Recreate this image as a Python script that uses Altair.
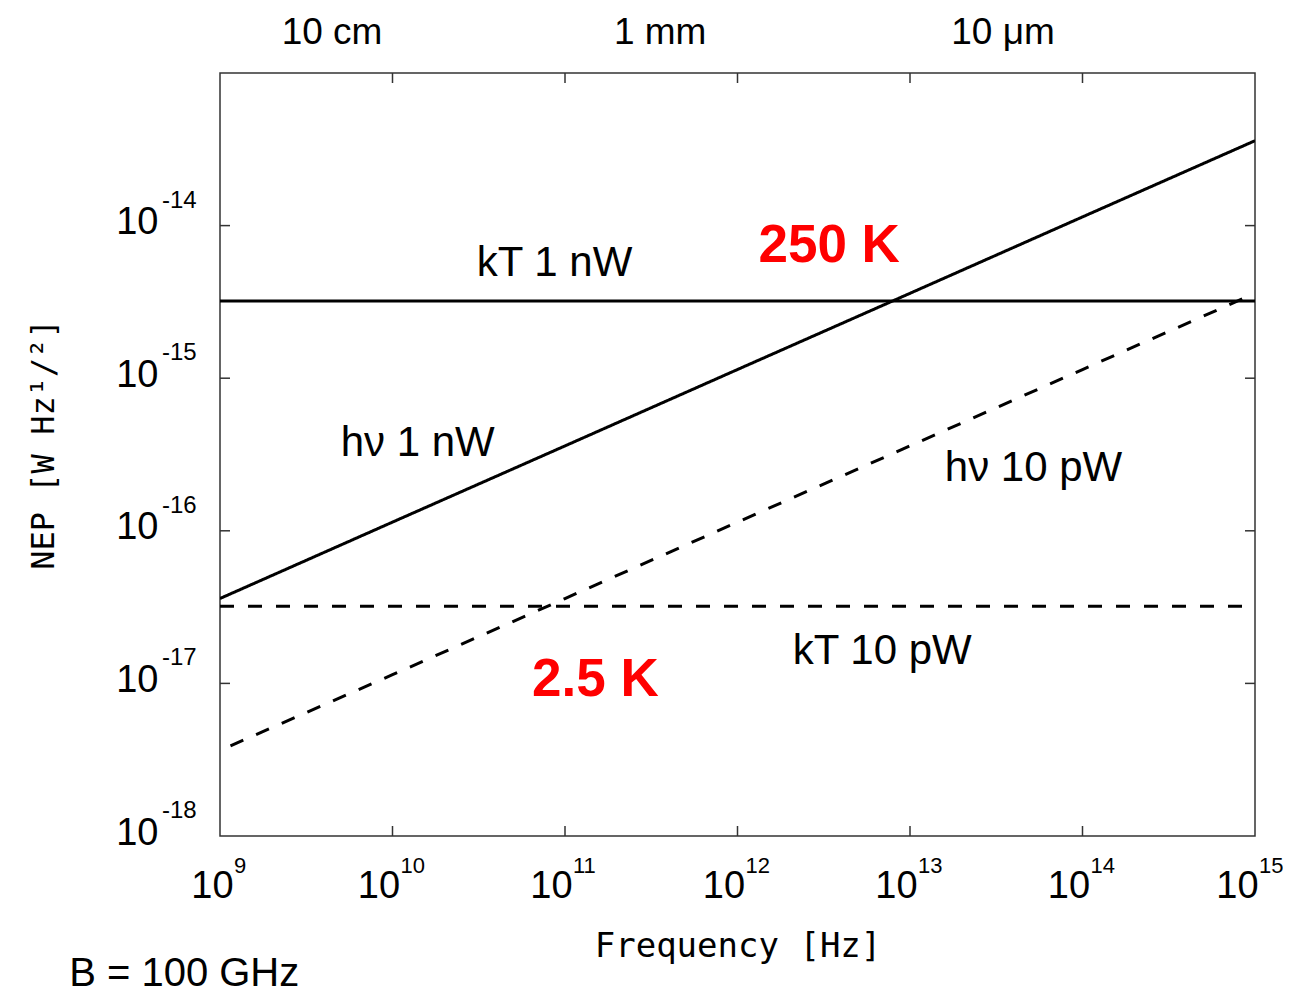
import altair as alt
import pandas as pd

# ---------------- data ----------------
freq_decades = [1e9, 1e10, 1e11, 1e12, 1e13, 1e14, 1e15]
hv_1nw = [3.6e-17, 1.14e-16, 3.6e-16, 1.14e-15, 3.6e-15, 1.14e-14, 3.6e-14]

hv_10pw_freq = [1.15e9, 1e10, 1e11, 1e12, 1e13, 1e14, 1e15]
hv_10pw = [3.9e-18, 1.14e-17, 3.6e-17, 1.14e-16, 3.6e-16, 1.14e-15, 3.6e-15]

kt_freq = [1e9, 1e15]
kt_1nw = [3.2e-15, 3.2e-15]
kt_10pw = [3.2e-17, 3.2e-17]

x_tick_values = [1e9, 1e10, 1e11, 1e12, 1e13, 1e14, 1e15]
x_tick_exponents = ["9", "10", "11", "12", "13", "14", "15"]
y_tick_values = [1e-18, 1e-17, 1e-16, 1e-15, 1e-14]
y_tick_exponents = ["-18", "-17", "-16", "-15", "-14"]
tick_base = "10"

inner_x_ticks = [1e10, 1e11, 1e12, 1e13, 1e14]
inner_y_ticks = [1e-17, 1e-16, 1e-15, 1e-14]

ann_labels = ["kT 1 nW", "hν 1 nW", "hν 10 pW", "kT 10 pW"]
ann_freq = [8.7e10, 1.4e10, 5.2e13, 6.9e12]
ann_nep = [5.7e-15, 3.76e-16, 2.57e-16, 1.64e-17]

temp_labels = ["250 K", "2.5 K"]
temp_freq = [3.4e12, 1.5e11]
temp_nep = [7.4e-15, 1.05e-17]

wave_labels = ["10 cm", "1 mm", "10 μm"]
wave_freq = [4.46e9, 3.56e11, 3.46e13]
wave_nep = [1.55e-13, 1.55e-13, 1.55e-13]

note_label = ["B = 100 GHz"]
note_freq = [6.2e8]
note_nep = [1.24e-19]

# ---------------- build tables ----------------
rows = []
for f, v in zip(freq_decades, hv_1nw):
    rows.append({"freq": f, "nep": v, "series": "hv 1 nW", "dash": "solid"})
for f, v in zip(hv_10pw_freq, hv_10pw):
    rows.append({"freq": f, "nep": v, "series": "hv 10 pW", "dash": "dashed"})
for f, v in zip(kt_freq, kt_1nw):
    rows.append({"freq": f, "nep": v, "series": "kT 1 nW", "dash": "solid"})
for f, v in zip(kt_freq, kt_10pw):
    rows.append({"freq": f, "nep": v, "series": "kT 10 pW", "dash": "dashed"})
lines_df = pd.DataFrame(rows)

ann_df = pd.DataFrame({"freq": ann_freq, "nep": ann_nep, "label": ann_labels})
temp_df = pd.DataFrame({"freq": temp_freq, "nep": temp_nep, "label": temp_labels})
wave_df = pd.DataFrame({"freq": wave_freq, "nep": wave_nep, "label": wave_labels})
note_df = pd.DataFrame({"freq": note_freq, "nep": note_nep, "label": note_label})
xt_df = pd.DataFrame({"freq": inner_x_ticks})
yt_df = pd.DataFrame({"nep": inner_y_ticks})
xexp_df = pd.DataFrame({"freq": x_tick_values, "label": x_tick_exponents})
yexp_df = pd.DataFrame({"nep": y_tick_values, "label": y_tick_exponents})

W, H = 1035, 763
TICK = 10

xscale = alt.Scale(type="log", domain=[1e9, 1e15])
yscale = alt.Scale(type="log", domain=[1e-18, 1e-13])

x_label_offset = {
    "condition": [
        {"test": "datum.value < 3e9", "value": -8},
        {"test": "datum.value > 3e14", "value": -18},
    ],
    "value": -14,
}

x_axis = alt.Axis(values=x_tick_values, labelExpr=f"'{tick_base}'",
                  ticks=False, domain=False, grid=False, labelFlush=False, labelOverlap=False,
                  labelBaseline="alphabetic", labelPadding=61, labelOffset=x_label_offset,
                  title="Frequency [Hz]", titlePadding=24)
y_axis = alt.Axis(values=y_tick_values, labelExpr=f"'{tick_base}'",
                  ticks=False, domain=False, grid=False, labelFlush=False, labelOverlap=False,
                  labelBaseline="alphabetic", labelAlign="right", labelPadding=62, labelOffset=8,
                  title="NEP [W Hz¹/²]", titlePadding=55, titleY=371, titleFontSize=32)

X = alt.X("freq:Q", scale=xscale, axis=x_axis)
Y = alt.Y("nep:Q", scale=yscale, axis=y_axis)

lines = alt.Chart(lines_df).mark_line(color="black", strokeWidth=3, clip=True).encode(
    x=X, y=Y,
    detail="series:N",
    strokeDash=alt.StrokeDash("dash:N", scale=alt.Scale(domain=["solid", "dashed"],
                                                         range=[[1, 0], [14, 14]]), legend=None),
)

tick_style = dict(color="#333333", strokeWidth=1.5)
bottom_ticks = alt.Chart(xt_df).mark_rule(**tick_style).encode(
    x=X, y=alt.value(H), y2=alt.value(H - TICK))
top_ticks = alt.Chart(xt_df).mark_rule(**tick_style).encode(
    x=X, y=alt.value(0), y2=alt.value(TICK))
left_ticks = alt.Chart(yt_df).mark_rule(**tick_style).encode(
    y=Y, x=alt.value(0), x2=alt.value(TICK))
right_ticks = alt.Chart(yt_df).mark_rule(**tick_style).encode(
    y=Y, x=alt.value(W), x2=alt.value(W - TICK))

# exponents of the tick labels (superscripts)
exp_style = dict(font="Liberation Sans", fontSize=22, color="black",
                 align="left", baseline="alphabetic", dy=37)
x_exp_first = alt.Chart(xexp_df.iloc[:1]).mark_text(dx=14, **exp_style).encode(
    x=X, y=alt.value(H), text="label:N")
x_exp_mid = alt.Chart(xexp_df.iloc[1:-1]).mark_text(dx=8, **exp_style).encode(
    x=X, y=alt.value(H), text="label:N")
x_exp_last = alt.Chart(xexp_df.iloc[-1:]).mark_text(dx=4, **exp_style).encode(
    x=X, y=alt.value(H), text="label:N")
y_exp = alt.Chart(yexp_df).mark_text(font="Liberation Sans", fontSize=24, color="black",
                                     align="left", baseline="alphabetic", dx=-58, dy=-18).encode(
    y=Y, x=alt.value(0), text="label:N")

ann = alt.Chart(ann_df).mark_text(font="Liberation Sans", fontSize=42, color="black",
                                  align="center", baseline="middle").encode(
    x=X, y=Y, text="label:N")
temps = alt.Chart(temp_df).mark_text(font="Liberation Sans", fontSize=53, fontWeight="bold",
                                     color="#ff0000", align="center", baseline="middle").encode(
    x=X, y=Y, text="label:N")
waves = alt.Chart(wave_df).mark_text(font="Liberation Sans", fontSize=37, color="black",
                                     align="center", baseline="alphabetic").encode(
    x=X, y=Y, text="label:N")
note = alt.Chart(note_df).mark_text(font="Liberation Sans", fontSize=40, color="black",
                                    align="center", baseline="middle").encode(
    x=X, y=Y, text="label:N")

chart = alt.layer(lines, bottom_ticks, top_ticks, left_ticks, right_ticks,
                  x_exp_first, x_exp_mid, x_exp_last, y_exp,
                  ann, temps, waves, note).properties(
    width=W, height=H,
    autosize=alt.AutoSizeParams(type="none"),
    padding={"left": 212, "top": 65, "right": 28, "bottom": 162},
    background="white",
).configure_view(
    stroke="#333333", strokeWidth=1.5
).configure_axis(
    labelFont="Liberation Sans", labelFontSize=38, labelColor="black",
    titleFont="DejaVu Sans Mono", titleFontSize=34, titleFontWeight="normal", titleColor="black",
)

chart.save("out.html", embed_options={"renderer": "svg", "actions": False})
